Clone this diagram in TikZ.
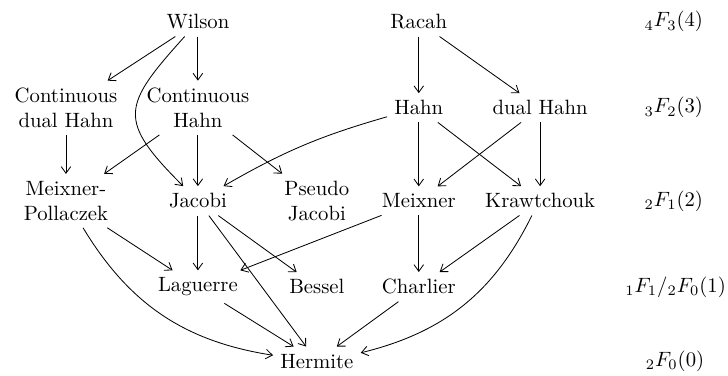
\documentclass[tikz,border=0pt]{standalone}
\usepackage{tikz}
\usetikzlibrary{arrows.meta}

\begin{document}
\begin{tikzpicture}[-{Straight Barb[length=3.2pt,width=4.6pt]}, every node/.style={align=center}]
    \useasboundingbox (0,0) rectangle (12.36,-6.38);

    % Row 4F3
    \node (wilson) at (3.36,-0.37) {Wilson};
    \node (racah) at (7.11,-0.37) {Racah};

    % Row 3F2
    \node (cdhahn) at (1.12,-1.83) {Continuous\\dual Hahn};
    \node (chahn) at (3.36,-1.83) {Continuous\\Hahn};
    \node (hahn) at (7.11,-1.83) {Hahn};
    \node (dhahn) at (9.17,-1.83) {dual Hahn};

    % Row 2F1
    \node (mpoll) at (1.12,-3.41) {Meixner-\\Pollaczek};
    \node (jacobi) at (3.36,-3.41) {Jacobi};
    \node (pjacobi) at (5.38,-3.41) {Pseudo\\Jacobi};
    \node (meixner) at (7.11,-3.41) {Meixner};
    \node (kraw) at (9.17,-3.41) {Krawtchouk};

    % Row 1F1 / 2F0
    \node (laguerre) at (3.36,-4.87) {Laguerre};
    \node (bessel) at (5.38,-4.87) {Bessel};
    \node (charlier) at (7.11,-4.87) {Charlier};

    % Row 2F0
    \node (hermite) at (5.38,-6.13) {Hermite};

    % Labels of the levels
    \node (l4) at (11.44,-0.37) {$_4F_3(4)$};
    \node (l3) at (11.44,-1.83) {$_3F_2(3)$};
    \node (l2) at (11.44,-3.41) {$_2F_1(2)$};
    \node (l1) at (11.47,-4.87) {$_1F_1/{}_2F_0(1)$};
    \node (l0) at (11.46,-6.13) {$_2F_0(0)$};

    % Arrows from the top
    \draw (wilson) -- (cdhahn);
    \draw (wilson) -- (chahn);
    \draw (wilson) to[out=228, in=135, looseness=1.6] (jacobi);
    \draw (racah) -- (hahn);
    \draw (racah) -- (dhahn);

    % Arrows from 3F2
    \draw (cdhahn) -- (mpoll);
    \draw (chahn) -- (mpoll);
    \draw (chahn) -- (jacobi);
    \draw (chahn) -- (pjacobi);
    \draw (hahn) to[bend right=7] (jacobi);
    \draw (hahn) -- (meixner);
    \draw (hahn) -- (kraw);
    \draw (dhahn) -- (meixner);
    \draw (dhahn) -- (kraw);

    % Arrows from 2F1
    \draw (mpoll) -- (laguerre);
    \draw (mpoll) to[bend right=25] (hermite);
    \draw (jacobi) -- (laguerre);
    \draw (jacobi) -- (bessel);
    \draw (jacobi) -- (hermite);
    \draw (meixner) -- (laguerre);
    \draw (meixner) -- (charlier);
    \draw (kraw) -- (charlier);
    \draw (kraw) to[bend left=25] (hermite);

    % Arrows to Hermite
    \draw (laguerre) -- (hermite);
    \draw (charlier) -- (hermite);
\end{tikzpicture}
\end{document}
